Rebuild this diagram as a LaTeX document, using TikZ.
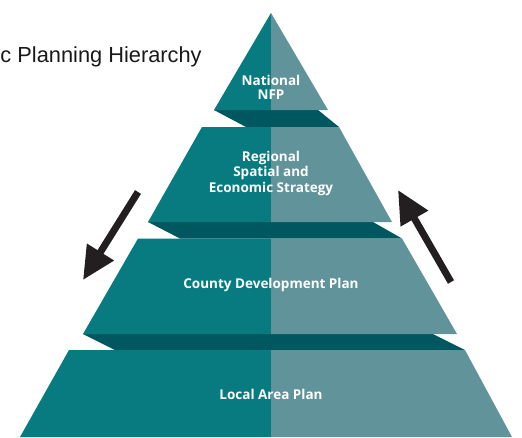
\documentclass[tikz,border=0pt]{standalone}
\usepackage{fontspec}
\usetikzlibrary{arrows.meta}
\newfontfamily\titlefont{Liberation Sans}
\newfontfamily\lblfont{Open Sans}
\definecolor{tealL}{HTML}{077B80}
\definecolor{tealR}{HTML}{61939B}
\definecolor{tealD}{HTML}{00575F}
\definecolor{arrowc}{HTML}{231F20}
\tikzset{
  lbl/.style={anchor=base, text=white, inner sep=0pt, font=\lblfont\bfseries\fontsize{13.5}{15}\selectfont},
  bigarrow/.style={draw=arrowc, line width=7pt, -{Triangle[length=33pt,width=30pt]}},
  band/.style={fill=tealD},
  lside/.style={fill=tealL},
  rside/.style={fill=tealR}
}
\begin{document}
\begin{tikzpicture}[x=1pt,y=-1pt]
\useasboundingbox (0,0) rectangle (522,437);
\clip (0,0) rectangle (522,437);
\fill[white] (0,0) rectangle (522,437);

% title
\node[anchor=base west, inner sep=0pt, font=\titlefont\fontsize{21.8}{25}\selectfont, text=black!90] (title) at (0.3,62) {c Planning Hierarchy};

% bands
\fill[band] (214,110) -- (318,110) -- (339,127) -- (246,127) -- cycle;
\fill[band] (148,222) -- (373,222) -- (402,238.5) -- (180,238.5) -- cycle;
\fill[band] (83,334) -- (433,334) -- (465,350) -- (115,350) -- cycle;

% layer 1 (National)
\fill[lside] (271,13) -- (214,110) -- (271,110) -- cycle;
\fill[rside] (271,13) -- (328,110) -- (271,110) -- cycle;
% layer 2 (Regional)
\fill[lside] (202,127) -- (271,127) -- (271,222) -- (148,222) -- cycle;
\fill[rside] (271,127) -- (339,127) -- (392,222) -- (271,222) -- cycle;
% layer 3 (County)
\fill[lside] (138,238.5) -- (271,238.5) -- (271,334) -- (83,334) -- cycle;
\fill[rside] (271,238.5) -- (402,238.5) -- (457,334) -- (271,334) -- cycle;
% layer 4 (Local)
\fill[lside] (69,350) -- (271,350) -- (271,437) -- (20,437) -- cycle;
\fill[rside] (271,350) -- (465,350) -- (512,437) -- (271,437) -- cycle;

% labels
\node[lbl] (nat1) at (271,85) {National};
\node[lbl] (nat2) at (271,99.5) {NFP};
\node[lbl] (reg1) at (271,161) {Regional};
\node[lbl] (reg2) at (271,176.5) {Spatial and};
\node[lbl] (reg3) at (271,192) {Economic Strategy};
\node[lbl] (cty) at (271,288) {County Development Plan};
\node[lbl] (loc) at (271,399) {Local Area Plan};

% arrows
\coordinate (downS) at (138,192);
\coordinate (downE) at (83,280);
\coordinate (upS) at (451,282);
\coordinate (upE) at (398,190);
\draw[bigarrow] (downS) -- (downE);
\draw[bigarrow] (upS) -- (upE);
\end{tikzpicture}
\end{document}
